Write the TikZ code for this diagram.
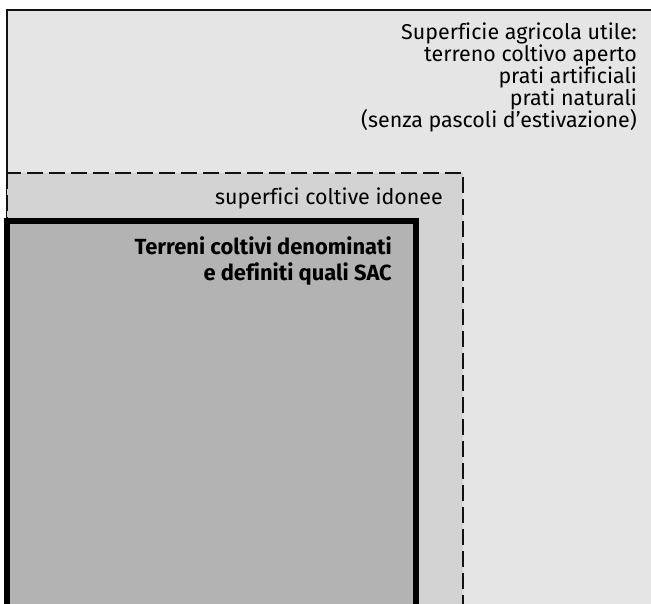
\documentclass[tikz,border=0pt]{standalone}
\usepackage{fontspec}
\setmainfont{Fira Sans}[Ligatures=CommonOff]
\usetikzlibrary{positioning}
\definecolor{outergray}{HTML}{E5E5E5}
\definecolor{midgray}{HTML}{D3D3D3}
\definecolor{innergray}{HTML}{B3B3B3}
\definecolor{inkline}{HTML}{111111}
\begin{document}
\begin{tikzpicture}[x=1bp, y=-1bp,
  outerbox/.style={fill=outergray, draw=inkline, line width=2bp},
  idonbox/.style={fill=midgray, draw=inkline, line width=2.2bp, dash pattern=on 16bp off 6bp},
  sacbox/.style={fill=innergray, draw=black, line width=5.5bp},
  lab/.style={font=\fontsize{21.5}{22}\selectfont, inner sep=0pt, anchor=base east},
  labbold/.style={font=\fontsize{22}{26}\selectfont\bfseries, inner sep=0pt, anchor=base east}]
\useasboundingbox (0,0) rectangle (651,604);
\clip (0,0) rectangle (651,604);
\fill[white] (0,0) rectangle (651,604);
% nested areas, cut off at the right and bottom
\draw[outerbox] (7,10) rectangle (660,615);
\draw[idonbox] (7,173) rectangle (463,615);
\draw[sacbox] (7,221) rectangle (416,615);
% labels
\foreach \t [count=\i] in {Superficie agricola utile:,terreno coltivo aperto,prati artificiali,prati naturali,(senza pascoli d’estivazione)} \node[lab] (sau\i) at (637,17.5+22*\i) {\t};
\node[lab] (idon) at (443,204) {superfici coltive idonee};
\node[labbold] (sac1) at (392,254.3) {Terreni coltivi denominati};
\node[labbold] (sac2) at (392,280) {e definiti quali SAC};
\end{tikzpicture}
\end{document}
